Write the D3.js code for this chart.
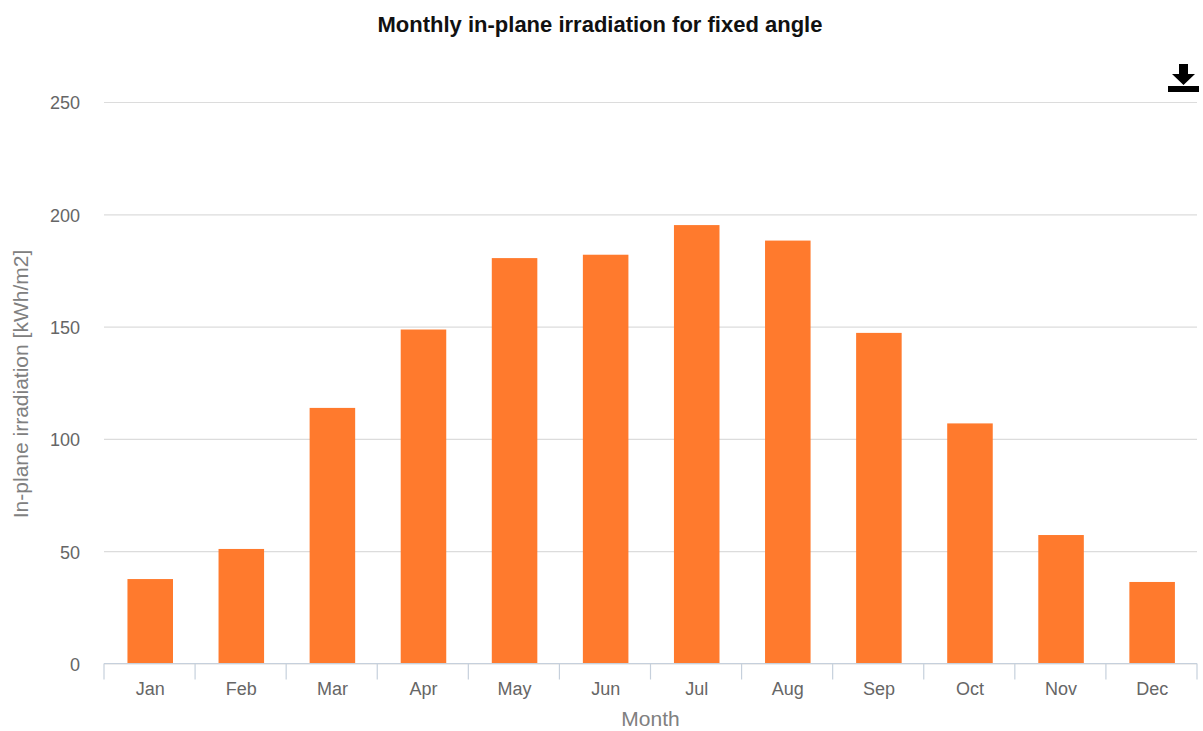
<!DOCTYPE html>
<html>
<head>
<meta charset="utf-8">
<script src="https://cdn.jsdelivr.net/npm/d3@7"></script>
<style>
  html, body { margin: 0; padding: 0; background: #fff; }
  text { font-family: "Liberation Sans", Arial, sans-serif; }
</style>
</head>
<body>
<div id="chart"></div>
<script>
var months = ["Jan", "Feb", "Mar", "Apr", "May", "Jun", "Jul", "Aug", "Sep", "Oct", "Nov", "Dec"];
var irradiation = [37.6, 51, 113.8, 148.7, 180.5, 182, 195.2, 188.3, 147.2, 106.9, 57.2, 36.3];
var yTicks = [0, 50, 100, 150, 200, 250];

var width = 1203, height = 731;
var margin = { top: 102, right: 6, bottom: 67.5, left: 104 };

var svg = d3.select("#chart").append("svg")
  .attr("width", width)
  .attr("height", height)
  .style("display", "block");

var x = d3.scaleBand().domain(months)
  .range([margin.left, width - margin.right])
  .paddingInner(0.5).paddingOuter(0.25).align(0.515);
var y = d3.scaleLinear().domain([0, 250])
  .range([height - margin.bottom, margin.top]);

// Grid and y labels
svg.append("g")
  .attr("transform", "translate(" + margin.left + ",0)")
  .call(d3.axisLeft(y).tickValues(yTicks).tickSize(-(width - margin.left - margin.right)).tickPadding(24))
  .call(function (g) {
    g.select(".domain").remove();
    g.selectAll("line").attr("stroke", "#dcdcdc").attr("stroke-width", 1.2);
    g.selectAll("text").attr("fill", "#666").attr("font-size", 18).attr("dy", "0.38em");
  });

// Bars
svg.selectAll(".bar")
  .data(irradiation)
  .join("rect")
  .attr("class", "bar")
  .attr("x", function (d, i) { return x(months[i]); })
  .attr("width", x.bandwidth())
  .attr("y", function (d) { return y(d); })
  .attr("height", function (d) { return y(0) - y(d); })
  .attr("fill", "#ff7a2d");

// Month axis, ticks sit on the band edges
var edges = months.map(function (m, i) { return margin.left + i * x.step(); });
edges.push(width - margin.right);
var xAxis = svg.append("g").attr("transform", "translate(0," + y(0) + ")");
xAxis.append("line")
  .attr("x1", margin.left).attr("x2", width - margin.right)
  .attr("stroke", "#c6d0dc").attr("stroke-width", 1.2);
xAxis.selectAll(".edge")
  .data(edges)
  .join("line")
  .attr("class", "edge")
  .attr("x1", function (d) { return d; })
  .attr("x2", function (d) { return d; })
  .attr("y1", 0).attr("y2", 16)
  .attr("stroke", "#c6d0dc").attr("stroke-width", 1.2);
xAxis.call(d3.axisBottom(x).tickSize(0).tickPadding(19))
  .call(function (g) {
    g.select(".domain").remove();
    g.selectAll("text").attr("fill", "#666").attr("font-size", 18);
  });

// Titles
svg.append("text")
  .attr("x", 600).attr("y", 32)
  .attr("text-anchor", "middle")
  .attr("font-size", 22).attr("font-weight", "bold")
  .attr("fill", "#111")
  .text("Monthly in-plane irradiation for fixed angle");

svg.append("text")
  .attr("x", 650.5).attr("y", 726)
  .attr("text-anchor", "middle")
  .attr("font-size", 21).attr("fill", "#808080")
  .text("Month");

svg.append("text")
  .attr("transform", "translate(28,384) rotate(-90)")
  .attr("text-anchor", "middle")
  .attr("font-size", 21).attr("fill", "#808080")
  .text("In-plane irradiation [kWh/m2]");

// Download icon
var icon = svg.append("g").attr("fill", "#000");
icon.append("path").attr("d", "M1179 64h9v10h7l-11.5 11L1172 74h7z");
icon.append("rect").attr("x", 1168).attr("y", 86).attr("width", 31).attr("height", 6);
</script>
</body>
</html>
